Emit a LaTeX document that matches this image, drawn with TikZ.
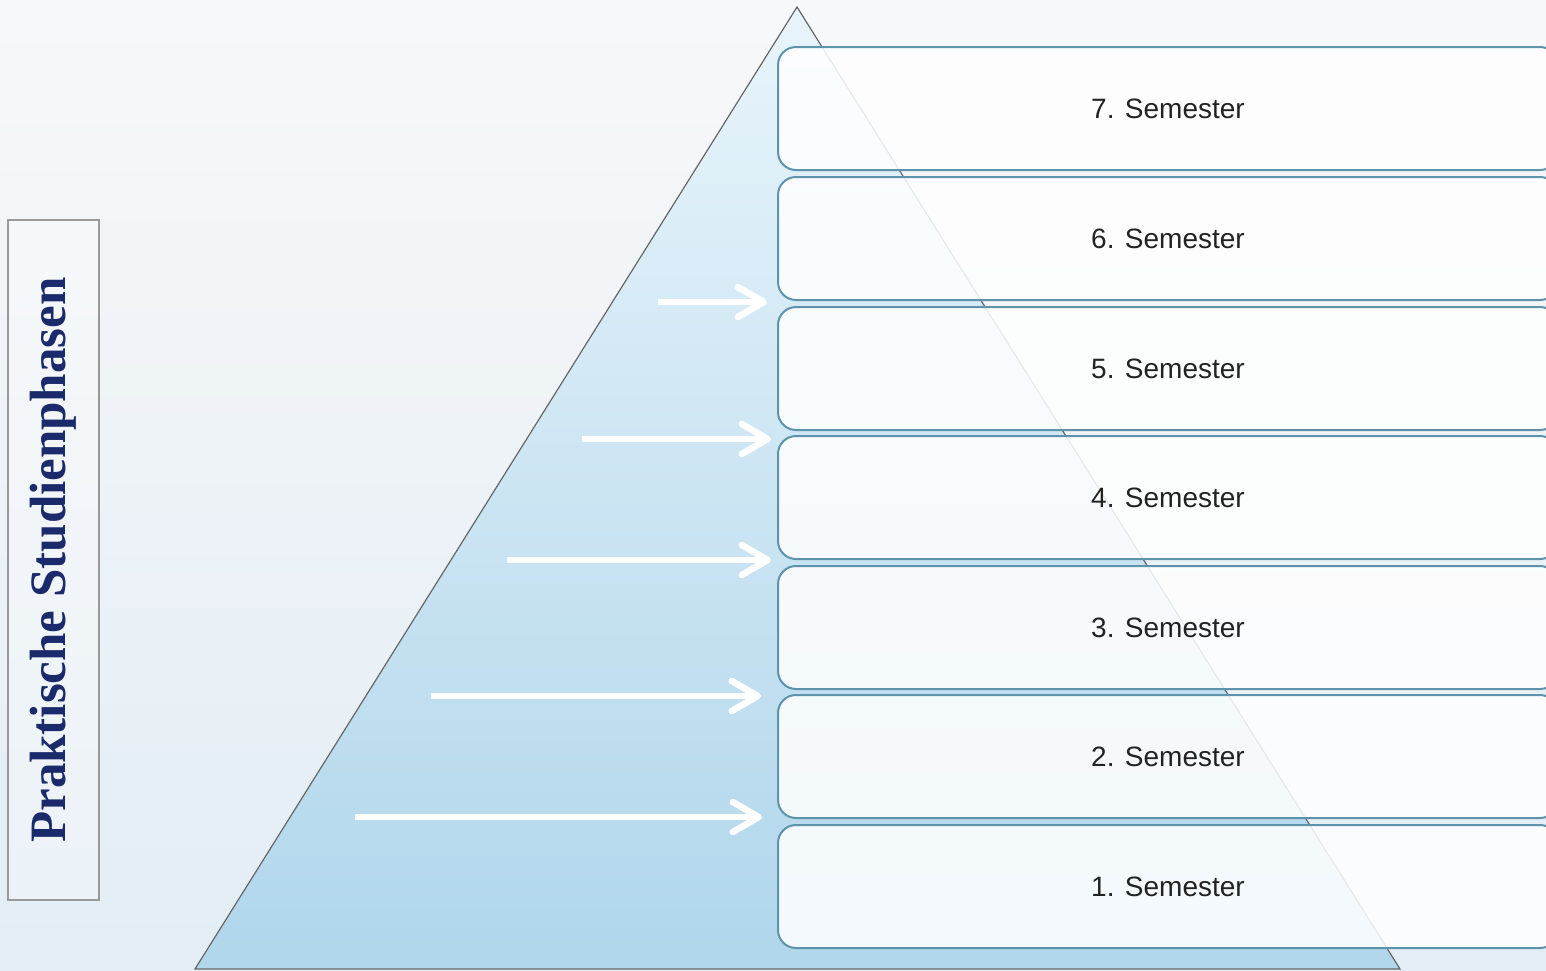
\documentclass[tikz,border=0pt]{standalone}
\usepackage{fontspec}
\setmainfont{Liberation Sans}
\newfontfamily\titelfont{Liberation Serif}
\usetikzlibrary{arrows.meta}
\usetikzlibrary{calc}
\definecolor{rahmen}{HTML}{5E93AC}
\definecolor{pyroben}{HTML}{E8F4FB}
\definecolor{pyrunten}{HTML}{B0D6EB}
\definecolor{hgoben}{HTML}{F7F8F9}
\definecolor{hgunten}{HTML}{E3EDF5}
\definecolor{titel}{HTML}{1B2A6B}
\definecolor{schrift}{HTML}{222222}
\tikzset{
	semester/.style={draw=rahmen, line width=2pt, rounded corners=18pt,
		fill=white, fill opacity=0.85, text opacity=1,
		minimum width=780pt, minimum height=123pt, inner sep=0pt,
		text=schrift, font=\fontsize{28}{34}\selectfont},
	pfeilstil/.style={white, line width=6.5pt,
		-{Straight Barb[length=26pt, width=30pt, round]}},
	pyramide/.style={draw=black!60, line width=1.2pt, top color=pyroben, bottom color=pyrunten},
	titelbox/.style={draw=black!40, line width=2pt, fill=white, fill opacity=0.3, text opacity=1,
		rotate=90, minimum width=680pt, minimum height=91pt, inner sep=0pt,
		text=titel, font=\titelfont\bfseries\fontsize{51}{56}\selectfont}
}
\newcommand{\semesterbox}[3] % name, y in px, label
{
	\node[semester] (#1) at (1168,#2) {#3};
}
\newcommand{\pfeil}[4] % name, start x, y, gap to box in px
{
	\coordinate (#1) at (#2,#3);
	\draw[pfeilstil] (#1) -- ([xshift=-#4pt]#1 -| s1.west);
}

\begin{document}
\begin{tikzpicture}[x=1pt, y=-1pt]
	% picture is 1546 x 970 px, 1px = 1pt
	\useasboundingbox (0,0) rectangle (1546,970);
	\shade[top color=hgoben, bottom color=hgunten] (0,0) rectangle (1546,970);

	% pyramid
	\draw[pyramide] (797,7) -- (1400,969) -- (195,969) -- cycle;

	% semesters, bottom to top
	\semesterbox{s1}{886.5}{1. Semester}
	\semesterbox{s2}{756.5}{2. Semester}
	\semesterbox{s3}{627.5}{3. Semester}
	\semesterbox{s4}{497.5}{4. Semester}
	\semesterbox{s5}{368.5}{5. Semester}
	\semesterbox{s6}{238.5}{6. Semester}
	\semesterbox{s7}{108.5}{7. Semester}

	% arrows between the semesters
	\pfeil{p1}{355}{817}{15}
	\pfeil{p2}{431}{696}{16}
	\pfeil{p3}{507}{560}{6}
	\pfeil{p4}{582}{439}{6}
	\pfeil{p5}{658}{302}{10}

	% vertical title
	\node[titelbox] (titel) at (53.5,560) {Praktische Studienphasen};
\end{tikzpicture}
\end{document}
